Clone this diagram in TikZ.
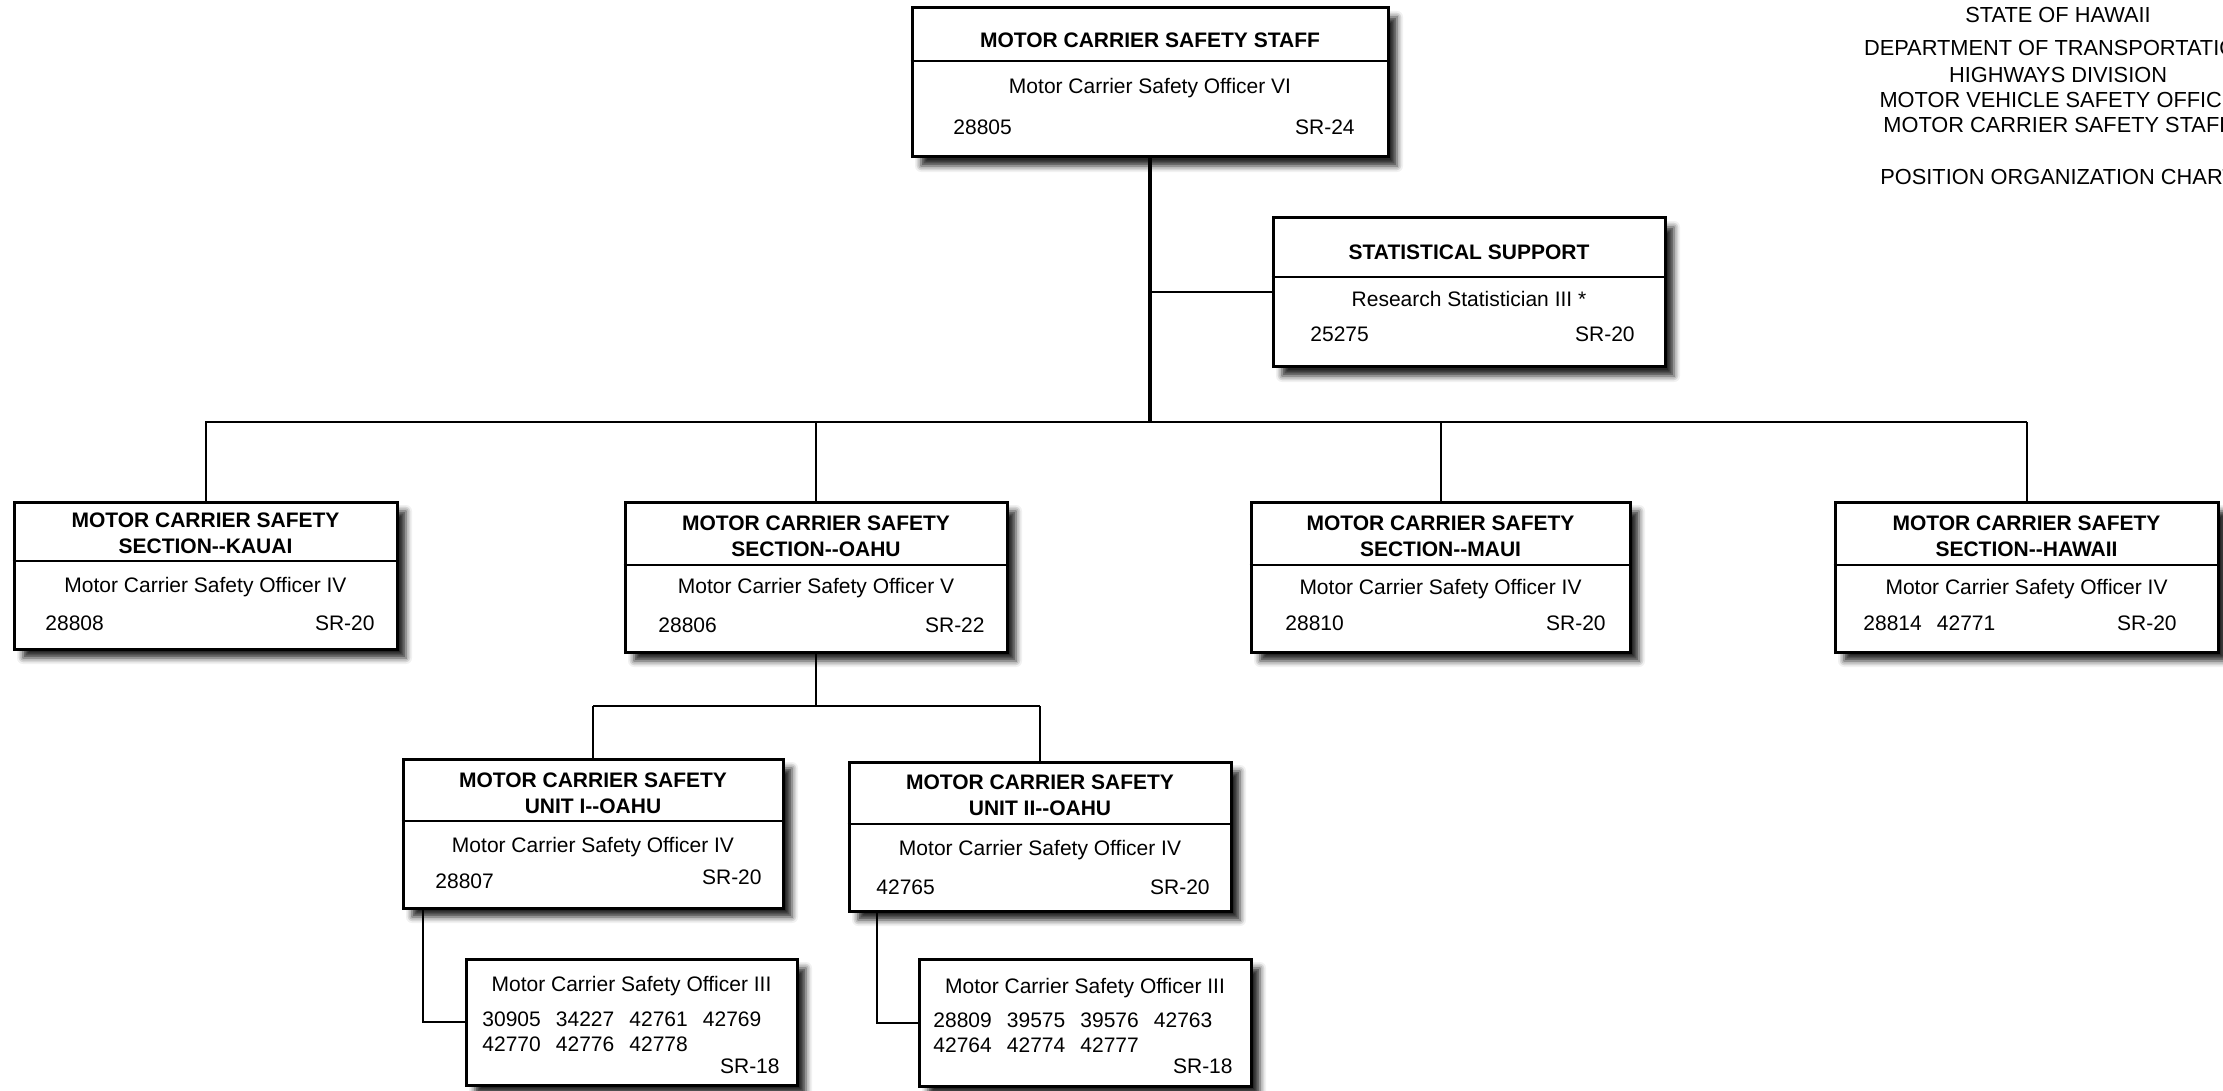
\documentclass[tikz,border=0pt]{standalone}
\usepackage{fontspec}
\setmainfont{Liberation Sans}[Ligatures=TeXOff]
\usepackage{tikz}
\usetikzlibrary{positioning, fit, shadows.blur}

\newcommand{\numgap}{\hspace{0.72em}}

\begin{document}
\begin{tikzpicture}[x=0.5pt, y=-0.5pt,
    every node/.style={inner sep=0pt, font=\fontsize{10.5}{12.8}\selectfont},
    orgbox/.style={draw, line width=1.5pt, fill=white,
      blur shadow={shadow xshift=4.5pt, shadow yshift=-4.5pt, shadow blur radius=3pt, shadow opacity=85}},
    title/.style={font=\fontsize{10.5}{12.8}\selectfont\bfseries, align=center},
    heading/.style={font=\fontsize{10.9}{13}\selectfont},
    link/.style={line width=1pt},
    bus/.style={line width=1.3pt},
    trunk/.style={line width=2pt}]
  \useasboundingbox (0,0) rectangle (2223,1091);

  % heading
  \node (hdr1) [heading] at (2058,15) {STATE OF HAWAII};
  \node (hdr2) [heading] at (2058,48) {DEPARTMENT OF TRANSPORTATION};
  \node (hdr3) [heading] at (2058,75) {HIGHWAYS DIVISION};
  \node (hdr4) [heading] at (2058,100) {MOTOR VEHICLE SAFETY OFFICE};
  \node (hdr5) [heading] at (2058,125) {MOTOR CARRIER SAFETY STAFF};
  \node (hdr6) [heading] at (2058,177) {POSITION ORGANIZATION CHART};

  % connectors (under the boxes)
  \coordinate (busL) at (205,422);
  \coordinate (oahuJ) at (816,706);

  % boxes
  \node (staff) [orgbox, fit={(912,8) (1388,157)}] {};
  \draw [link] (staff.west |- 0,61) -- (staff.east |- 0,61);
  \node [title] at (1150,40) {MOTOR CARRIER SAFETY STAFF};
  \node at (1150,88) {Motor Carrier Safety Officer VI};
  \node [anchor=west] at (953,127) {28805};
  \node [anchor=east] at (1355,127) {SR-24};

  \node (stat) [orgbox, fit={(1273,218) (1665,367)}] {};
  \draw [link] (stat.west |- 0,277) -- (stat.east |- 0,277);
  \node [title] at (1469,252) {STATISTICAL SUPPORT};
  \node at (1469,299) {Research Statistician III *};
  \node [anchor=west] at (1310,334) {25275};
  \node [anchor=east] at (1635,334) {SR-20};

  \node (kauai) [orgbox, fit={(14,502) (397,649)}] {};
  \draw [link] (kauai.west |- 0,561) -- (kauai.east |- 0,561);
  \node [title] at (205.5,533.5) {MOTOR CARRIER SAFETY\\SECTION--KAUAI};
  \node at (205.5,587) {Motor Carrier Safety Officer IV};
  \node [anchor=west] at (45,623) {28808};
  \node [anchor=east] at (375,623) {SR-20};

  \node (oahu) [orgbox, fit={(625,502) (1007,652)}] {};
  \draw [link] (oahu.west |- 0,565) -- (oahu.east |- 0,565);
  \node [title] at (816,536) {MOTOR CARRIER SAFETY\\SECTION--OAHU};
  \node at (816,588) {Motor Carrier Safety Officer V};
  \node [anchor=west] at (658,625) {28806};
  \node [anchor=east] at (985,625) {SR-22};

  \node (maui) [orgbox, fit={(1251,502) (1630,652)}] {};
  \draw [link] (maui.west |- 0,565) -- (maui.east |- 0,565);
  \node [title] at (1440.5,536) {MOTOR CARRIER SAFETY\\SECTION--MAUI};
  \node at (1440.5,589) {Motor Carrier Safety Officer IV};
  \node [anchor=west] at (1285,623) {28810};
  \node [anchor=east] at (1606,623) {SR-20};

  \node (hawaii) [orgbox, fit={(1835,502) (2218,652)}] {};
  \draw [link] (hawaii.west |- 0,565) -- (hawaii.east |- 0,565);
  \node [title] at (2026.5,536) {MOTOR CARRIER SAFETY\\SECTION--HAWAII};
  \node at (2026.5,589) {Motor Carrier Safety Officer IV};
  \node [anchor=west] at (1863,623) {28814\numgap 42771};
  \node [anchor=east] at (2177,623) {SR-20};

  \node (unitI) [orgbox, fit={(403,759) (783,908)}] {};
  \draw [link] (unitI.west |- 0,821) -- (unitI.east |- 0,821);
  \node [title] at (593,793) {MOTOR CARRIER SAFETY\\UNIT I--OAHU};
  \node at (593,847) {Motor Carrier Safety Officer IV};
  \node [anchor=west] at (435,881) {28807};
  \node [anchor=east] at (762,877) {SR-20};

  \node (unitII) [orgbox, fit={(849,762) (1231,911)}] {};
  \draw [link] (unitII.west |- 0,824) -- (unitII.east |- 0,824);
  \node [title] at (1040,795.5) {MOTOR CARRIER SAFETY\\UNIT II--OAHU};
  \node at (1040,850) {Motor Carrier Safety Officer IV};
  \node [anchor=west] at (876,887) {42765};
  \node [anchor=east] at (1210,887) {SR-20};

  \node (offI) [orgbox, fit={(466,959) (797,1085)}] {};
  \node at (631.5,986) {Motor Carrier Safety Officer III};
  \node [anchor=west] at (482,1019) {30905\numgap 34227\numgap 42761\numgap 42769};
  \node [anchor=west] at (482,1044) {42770\numgap 42776\numgap 42778};
  \node [anchor=east] at (780,1066) {SR-18};

  \node (offII) [orgbox, fit={(919,959) (1251,1086)}] {};
  \node at (1085,988) {Motor Carrier Safety Officer III};
  \node [anchor=west] at (933,1020) {28809\numgap 39575\numgap 39576\numgap 42763};
  \node [anchor=west] at (933,1045) {42764\numgap 42774\numgap 42777};
  \node [anchor=east] at (1233,1066) {SR-18};

  % lines
  \draw [trunk] (staff.south) -- (staff.south |- busL);
  \draw [link] (staff.south |- stat.west) -- (stat.west);
  \draw [bus] (busL) -- (hawaii.north |- busL);
  \draw [link] (kauai.north |- busL) -- (kauai.north);
  \draw [link] (oahu.north |- busL) -- (oahu.north);
  \draw [link] (maui.north |- busL) -- (maui.north);
  \draw [link] (hawaii.north |- busL) -- (hawaii.north);
  \draw [link] (oahu.south) -- (oahuJ);
  \draw [link] (unitI.north |- oahuJ) -- (unitII.north |- oahuJ);
  \draw [link] (unitI.north |- oahuJ) -- (unitI.north);
  \draw [link] (unitII.north |- oahuJ) -- (unitII.north);
  \draw [link] (unitI.south west) ++(21,0) |- (offI.west);
  \draw [link] (unitII.south west) ++(29,0) |- (offII.west);
\end{tikzpicture}
\end{document}
